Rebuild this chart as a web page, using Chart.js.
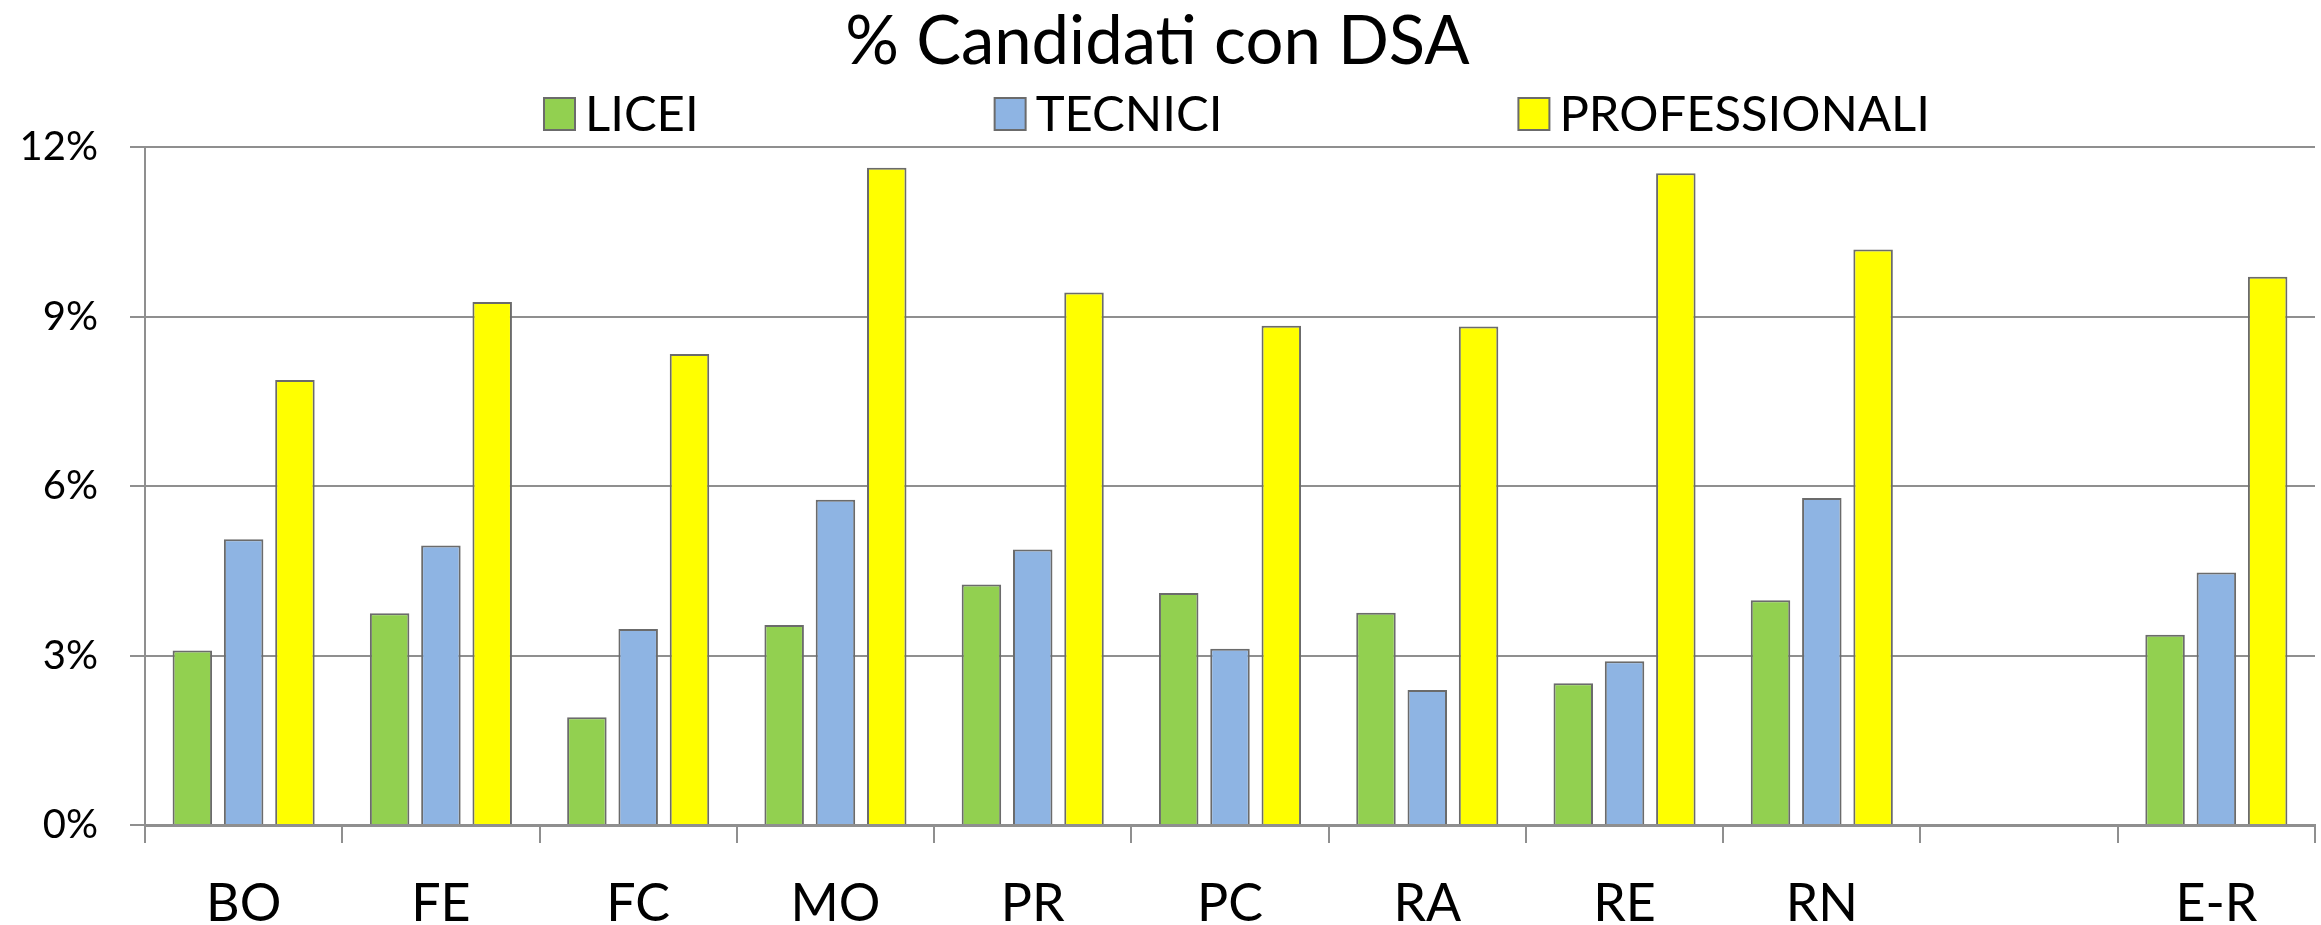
<!DOCTYPE html>
<html>
<head>
<title>% Candidati con DSA</title>
<script src="https://cdn.jsdelivr.net/npm/chart.js"></script>
<style>
body { margin:0; background:#fff; }
</style>
</head>
<body>
<div style="width:2321px;height:925px;">
<canvas id="bar1"></canvas>
</div>

<script>
var province = ['BO', 'FE', 'FC', 'MO', 'PR', 'PC', 'RA', 'RE', 'RN', '', 'E-R'];
var licei = [3.09, 3.75, 1.91, 3.54, 4.26, 4.11, 3.76, 2.51, 3.98, null, 3.37];
var tecnici = [5.06, 4.95, 3.47, 5.76, 4.88, 3.12, 2.39, 2.90, 5.79, null, 4.47];
var professionali = [7.88, 9.26, 8.34, 11.64, 9.43, 8.84, 8.83, 11.54, 10.19, null, 9.71];
var yTicks = [0, 3, 6, 9, 12];

var grigio = '#8f8f8f';
var bordo = '#6b6b6b';

// legenda disegnata a mano: in Excel le voci sono molto distanziate
var legendaLarga = {
	id: 'legendaLarga',
	afterDraw: function(chart) {
		var ctx = chart.ctx;
		var area = chart.chartArea;
		var box = 31, gap = 10, spazio = 296;
		ctx.save();
		ctx.font = '49px Lato';
		var sets = chart.data.datasets;
		var tot = 0;
		for (var i = 0; i < sets.length; i++) {
			tot += box + gap + ctx.measureText(sets[i].label).width;
		}
		tot += spazio * (sets.length - 1);
		var x = (area.left + area.right) / 2 + 7 - tot / 2;
		for (var i = 0; i < sets.length; i++) {
			ctx.fillStyle = sets[i].backgroundColor;
			ctx.fillRect(x, 98, box, 32);
			ctx.strokeStyle = bordo;
			ctx.lineWidth = 2;
			ctx.strokeRect(x, 98, box, 32);
			ctx.fillStyle = '#000';
			ctx.textBaseline = 'alphabetic';
			ctx.fillText(sets[i].label, x + box + gap, 131);
			x += box + gap + ctx.measureText(sets[i].label).width + spazio;
		}
		ctx.restore();
	}
};

var ctx = document.getElementById('bar1').getContext('2d');
var chart = new Chart(ctx, {
	type: 'bar',
	data: {
		labels: province,
		datasets: [
			{ label: 'LICEI', data: licei, backgroundColor: '#92D050', borderColor: bordo, borderWidth: 2 },
			{ label: 'TECNICI', data: tecnici, backgroundColor: '#8EB4E3', borderColor: bordo, borderWidth: 2 },
			{ label: 'PROFESSIONALI', data: professionali, backgroundColor: '#FFFF00', borderColor: bordo, borderWidth: 2 }
		]
	},
	options: {
		responsive: true,
		maintainAspectRatio: false,
		animation: false,
		categoryPercentage: 0.78,
		barPercentage: 0.77,
		layout: { padding: { left: 0, right: 6, top: 0, bottom: 0 } },
		plugins: {
			legend: { display: false },
			tooltip: { enabled: false },
			title: {
				display: true,
				text: '% Candidati con DSA',
				color: '#000',
				font: { family: 'Lato', size: 67, weight: 'normal', lineHeight: 1.2 },
				padding: { top: 2, bottom: 65 }
			}
		},
		scales: {
			x: {
				offset: true,
				afterFit: function(axis) { axis.height = 100; },
				grid: { offset: true, drawOnChartArea: false, drawTicks: true, tickLength: 18, color: grigio, lineWidth: 2 },
				border: { color: grigio, width: 3 },
				ticks: { color: '#000', padding: 35, font: { family: 'Lato', size: 52, lineHeight: 1 } }
			},
			y: {
				min: 0,
				max: 12,
				afterFit: function(axis) { axis.width = 145; },
				afterBuildTicks: function(axis) {
					axis.ticks = yTicks.map(function(v) { return { value: v }; });
				},
				grid: { color: grigio, lineWidth: 2, tickLength: 15 },
				border: { color: grigio, width: 2 },
				ticks: {
					color: '#000',
					padding: 32,
					font: { family: 'Lato', size: 40 },
					callback: function(v) { return v + '%'; }
				}
			}
		}
	},
	plugins: [legendaLarga]
});
</script>
</body>
</html>
